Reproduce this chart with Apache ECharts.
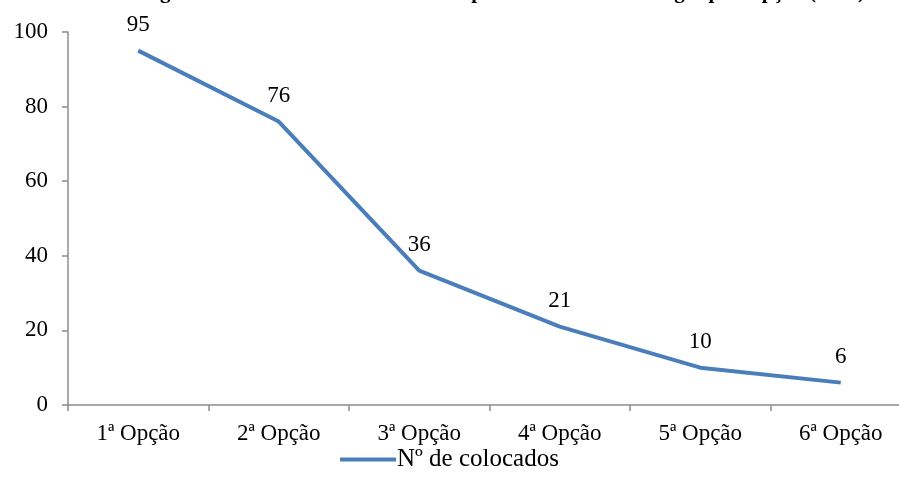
<!DOCTYPE html>
<html>
<head>
<meta charset="utf-8">
<script src="https://cdn.jsdelivr.net/npm/echarts@6/dist/echarts.min.js"></script>
<style>
html, body { margin: 0; padding: 0; background: #fff; }
#chart { width: 899px; height: 497px; }
</style>
</head>
<body>
<div id="chart"></div>
<script>
var categorias = ['1ª Opção', '2ª Opção', '3ª Opção', '4ª Opção', '5ª Opção', '6ª Opção'];
var colocados = [95, 76, 36, 21, 10, 6];
var titulo = 'Gráfico 5 - Vagas e Nº Colocados em Instituto Superior Técnico com Vagas por Opção (2012)';

var myChart = echarts.init(document.getElementById('chart'));

var fonte = '"Liberation Serif", "Times New Roman", serif';

option = {
	backgroundColor: '#fff',
	animation: false,
	color: ['#4a7ebb'],
	title: {
		text: titulo,
		left: 'center',
		top: -23,
		textStyle: {
			fontFamily: fonte,
			fontWeight: 'bold',
			fontSize: 21,
			color: '#000'
		}
	},
	grid: {
		left: 68,
		right: -12,
		top: 32,
		bottom: 92,
		outerBoundsMode: 'none'
	},
	legend: {
		bottom: 20,
		left: 'center',
		itemWidth: 56,
		itemHeight: 4,
		itemGap: 4,
		icon: 'rect',
		textStyle: {
			fontFamily: fonte,
			fontSize: 25,
			color: '#000',
			padding: [0, 0, 0, -4]
		},
		data: ['Nº de colocados']
	},
	xAxis: {
		type: 'category',
		data: categorias,
		boundaryGap: true,
		axisLine: { lineStyle: { color: '#8c8c8c', width: 1.5 } },
		axisTick: { show: true, length: 6, lineStyle: { color: '#8c8c8c', width: 1.5 } },
		axisLabel: {
			margin: 17,
			fontFamily: fonte,
			fontSize: 23,
			color: '#000'
		}
	},
	yAxis: {
		type: 'value',
		min: 0,
		max: 100,
		interval: 20,
		splitLine: { show: false },
		axisLine: { show: true, lineStyle: { color: '#8c8c8c', width: 1.5 } },
		axisTick: { show: true, length: 6, lineStyle: { color: '#8c8c8c', width: 1.5 } },
		axisLabel: {
			margin: 20,
			fontFamily: fonte,
			fontSize: 23,
			color: '#000'
		}
	},
	series: [{
		name: 'Nº de colocados',
		type: 'line',
		data: colocados,
		symbol: 'circle',
		symbolSize: 0,
		showSymbol: true,
		lineStyle: { width: 4, color: '#4a7ebb' },
		label: {
			show: true,
			position: 'top',
			distance: 14,
			fontFamily: fonte,
			fontSize: 23,
			color: '#000'
		}
	}]
};

myChart.setOption(option);
</script>
</body>
</html>
